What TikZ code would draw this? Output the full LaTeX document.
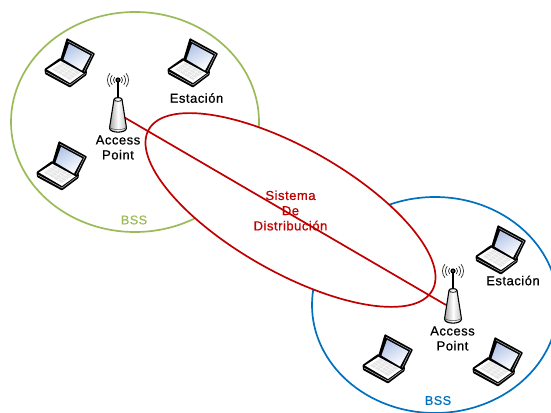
\documentclass[tikz,border=0pt]{standalone}
\usepackage{fontspec}
\setmainfont{Liberation Sans}
\newfontfamily\labfont[FakeBold=0.7,LetterSpace=4]{Liberation Sans}
\usetikzlibrary{shadings,calc}
\definecolor{bssgreen}{HTML}{9BBB59}
\definecolor{bssblue}{HTML}{0070C0}
\definecolor{dsred}{HTML}{C00000}
\definecolor{scr}{HTML}{B4C6E8}
\definecolor{keyb}{HTML}{E6E6E6}
\tikzset{
  x=1pt,y=-1pt,
  bss/.style={line width=1.7pt},
  lab/.style={font=\labfont\fontsize{13}{15}\selectfont,align=center,text=black,inner sep=0pt},
  redlab/.style={font=\labfont\fontsize{13}{15.2}\selectfont,align=center,text=dsred,inner sep=0pt},
  bsslab/.style={font=\labfont\fontsize{12.6}{14}\selectfont,inner sep=0pt},
  pics/laptop/.style={code={
    % base
    \fill[black,rounded corners=0.8pt,line join=round] (15,20) -- (-0.5,31) -- (0,36) -- (25,49.5) -- (41.5,37) -- (42,33) -- cycle;
    \fill[white] (16,22.5) -- (2,31.5) -- (25,45) -- (39.5,34.5) -- cycle;
    \fill[keyb] (17,24.5) -- (7,31.5) -- (25,42) -- (35,34.5) -- cycle;
    \foreach \t in {0.25,0.5,0.75}{
      \draw[white,line width=0.4pt] ($(17,24.5)!\t!(7,31.5)$) -- ($(35,34.5)!\t!(25,42)$);
      \draw[white,line width=0.4pt] ($(17,24.5)!\t!(35,34.5)$) -- ($(7,31.5)!\t!(25,42)$);
    }
    \draw[white!75!black,line width=0.5pt] (1,34) -- (25,47) -- (40.5,35.5);
    % lid
    \fill[black,rounded corners=0.8pt] (21.7,0) -- (50,15.5) -- (40,36) -- (15,22.5) -- cycle;
    \draw[white!70!black,line width=0.5pt] (23,3.2) -- (47.6,16.3) -- (39.2,33.5);
    \shade[left color=scr,right color=white,shading angle=30] (24,5.8) -- (45.3,17.3) -- (37,32.5) -- (18.5,21.5) -- cycle;
  }},
  pics/apoint/.style={code={
    % radio waves
    \foreach \r/\w in {4.5/0.7,7.5/0.7,10.5/0.7}{
      \draw[black!85,line width=\w pt] (0,0) ++(140:\r) arc[start angle=140,end angle=220,radius=\r];
      \draw[black!85,line width=\w pt] (0,0) ++(40:\r) arc[start angle=40,end angle=-40,radius=\r];
    }
    \draw[black,line width=1.3pt] (0,0) -- (0,18);
    \fill[black] (0,0) circle (2.6);
    \fill[black!45] (0,0) circle (0.9);
    % body
    \filldraw[draw=black,line width=1.1pt,left color=black!35,right color=black!25,middle color=white,line join=round]
      (-4,19.5) .. controls (-4,17) and (4,17) .. (4,19.5) -- (8.5,48) .. controls (8.5,53.5) and (-8.5,53.5) .. (-8.5,48) -- cycle;
    \draw[black,line width=0.7pt] (-4,19.5) .. controls (-3,22) and (3,22) .. (4,19.5);
    \draw[black!70,line width=0.5pt] (-8.5,47) .. controls (-6,50.5) and (6,50.5) .. (8.5,47);
  }}
}
\begin{document}
\begin{tikzpicture}
\useasboundingbox (0,0) rectangle (551,412);
\begin{scope}
\clip (0,0) rectangle (551,412);
\draw[bss,bssgreen] (135,122) ellipse [x radius=124,y radius=110];
\draw[bss,bssblue] (435,305) ellipse [x radius=123,y radius=108];
\end{scope}
\draw[bss,dsred,fill=white,rotate around={-29.6:(290.5,210)}] (290.5,210) ellipse [x radius=163,y radius=62];

\pic at (45,38) {laptop};
\pic at (168,38) {laptop};
\pic at (37,141) {laptop};
\pic at (476,225) {laptop};
\pic at (363,334) {laptop};
\pic at (473,337) {laptop};

\coordinate (ap1) at (122,116);
\coordinate (ap2) at (446,305);
\draw[dsred,line width=1.7pt] (ap1) -- (ap2);
\pic at (118,80) {apoint};
\pic at (453,271) {apoint};

\node[lab] (est1) at (196.5,98) {Estación};
\node[lab] (est2) at (513,280.5) {Estación};
\node[lab] (acc1) at (118,147.5) {Access\\Point};
\node[lab] (acc2) at (452.5,338.5) {Access\\Point};
\node[redlab] (ds) at (290.5,210.5) {Sistema\\De\\Distribución};
\node[bsslab,text=bssgreen] (b1) at (134,220) {BSS};
\node[bsslab,text=bssblue] (b2) at (438,400.5) {BSS};
\end{tikzpicture}
\end{document}
